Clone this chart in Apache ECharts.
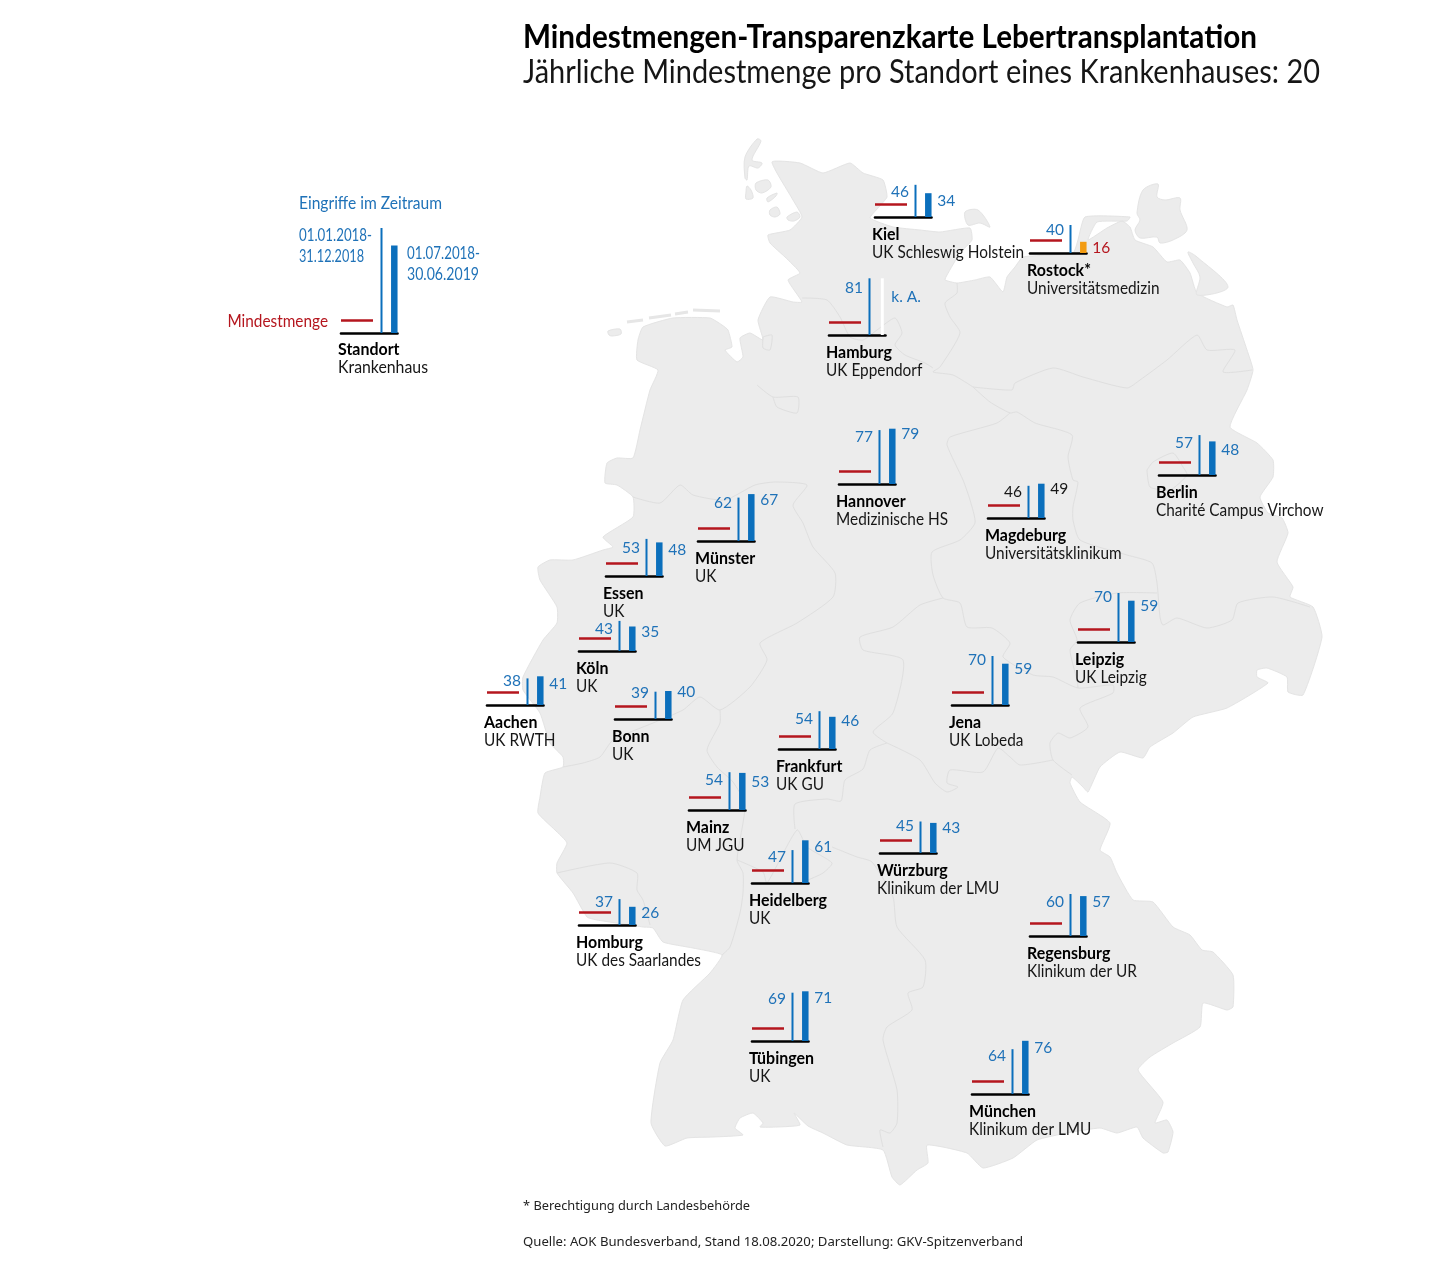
<!DOCTYPE html>
<html>
<head>
<meta charset="utf-8">
<title>Mindestmengen-Transparenzkarte Lebertransplantation</title>
<script src="https://cdn.jsdelivr.net/npm/echarts@6/dist/echarts.min.js"></script>
<style>
  html, body { margin: 0; padding: 0; background: #fff; }
  #main { width: 1440px; height: 1267px; }
</style>
</head>
<body>
<div id="main"></div>
<script>
// data
const cities = ['Kiel', 'Rostock*', 'Hamburg', 'Hannover', 'Berlin', 'Magdeburg', 'Münster', 'Essen', 'Köln', 'Aachen', 'Bonn',
  'Leipzig', 'Jena', 'Frankfurt', 'Mainz', 'Heidelberg', 'Würzburg', 'Homburg', 'Regensburg', 'Tübingen', 'München'];
const clinics = ['UK Schleswig Holstein', 'Universitätsmedizin', 'UK Eppendorf', 'Medizinische HS', 'Charité Campus Virchow',
  'Universitätsklinikum', 'UK', 'UK', 'UK', 'UK RWTH', 'UK', 'UK Leipzig', 'UK Lobeda', 'UK GU', 'UM JGU', 'UK',
  'Klinikum der LMU', 'UK des Saarlandes', 'Klinikum der UR', 'UK', 'Klinikum der LMU'];
const cases2018 = [46, 40, 81, 77, 57, 46, 62, 53, 43, 38, 39, 70, 70, 54, 54, 47, 45, 37, 60, 69, 64];
const cases2019 = [34, 16, null, 79, 48, 49, 67, 48, 35, 41, 40, 59, 59, 46, 53, 61, 43, 26, 57, 71, 76];
const minimumVolume = 20;
const blackLabelCities = ['Magdeburg'];
// legend sample is schematic: bars without numbers
const legendCases = [150, 125];

// layout: left of baseline, baseline y, y of left number, y of right number
const spots = [
  [875, 217, 192, 201], [1030, 253, 230, 248], [829, 335, 288, 297], [839, 484, 437, 434], [1159, 475, 443, 450],
  [988, 518, 492, 489], [698, 541, 503, 500], [606, 576, 548, 550], [579, 651, 629, 632], [487, 705, 681, 684],
  [615, 719, 693, 692], [1078, 642, 597, 606], [952, 705, 660, 669], [779, 749, 719, 721], [689, 810, 780, 782],
  [752, 883, 857, 847], [880, 853, 826, 828], [579, 925, 902, 913], [1030, 936, 902, 902], [752, 1041, 999, 998],
  [972, 1094, 1056, 1048]
];
const legendSpot = [341, 333];

const yMax = 160, pxPerCase = 0.7, chartW = 56.5;
const minLineEnd = 32, thinX = 40.5, thickX = 53.3;
// the red line sits a little lower than the bars' scale in the original
const minLineDrop = 1.5;

const BLUE = '#0b6fbc', LABEL_BLUE = '#1f72b8', RED = '#b5161e', ORANGE = '#f39c12', INK = '#161616';
const FONT = 'Lato, sans-serif';
const SMALL_FONT = '"Noto Sans", sans-serif';

// map backdrop
const germany = [
  772,162, 800,163, 823,173, 850,163, 863,173, 883,180, 887,197, 878,208, 870,218, 893,227, 920,230, 940,232, 970,228, 972,240,
  960,253, 947,275, 945,280, 957,283, 975,280, 990,277, 1003,292, 1007,277, 1015,267, 1023,257, 1073,253, 1078,240, 1085,217,
  1130,217, 1127,221, 1097,222, 1088,240, 1107,228, 1122,221, 1130,227, 1135,240, 1153,247, 1167,262, 1180,260, 1190,273, 1197,293,
  1227,307, 1233,305, 1237,320, 1247,350, 1253,370, 1247,390, 1230,427, 1257,443, 1273,460, 1273,477, 1260,497, 1268,513, 1282,518,
  1288,533, 1277,562, 1293,587, 1290,597, 1313,607, 1322,637, 1303,695, 1288,692, 1287,677, 1267,668, 1257,670, 1257,677, 1268,683,
  1227,708, 1193,717, 1173,733, 1150,747, 1143,758, 1120,752, 1100,767, 1088,792, 1083,787, 1072,777, 1070,783, 1080,802, 1110,823,
  1100,850, 1110,857, 1117,873, 1133,900, 1153,902, 1173,927, 1190,935, 1202,950, 1213,952, 1233,975, 1233,1007, 1227,1010, 1203,1003,
  1200,1027, 1173,1043, 1150,1057, 1138,1070, 1163,1102, 1155,1123, 1167,1120, 1173,1132, 1168,1152, 1163,1153, 1143,1138, 1137,1127,
  1117,1133, 1100,1128, 1067,1133, 1037,1140, 1013,1158, 983,1168, 967,1153, 927,1145, 928,1163, 917,1170, 900,1185, 892,1177, 883,1150,
  847,1145, 823,1133, 808,1126, 794,1113, 800,1125, 777,1127, 760,1127, 763,1123, 753,1113, 740,1118, 735,1128, 743,1135, 713,1137,
  687,1138, 665,1146, 651,1123, 660,1063, 673,1040, 683,1000, 710,973, 722,955, 693,948, 663,942, 653,928, 643,927, 597,920, 587,917,
  573,893, 557,873, 557,863, 567,843, 555,830, 538,813, 540,797, 545,773, 563,767, 563,757, 550,743, 540,713, 523,690, 523,677, 543,640,
  557,623, 557,607, 540,580, 538,567, 550,560, 573,560, 603,550, 613,547, 603,537, 633,517, 633,497, 617,485, 605,483, 607,463, 617,458,
  633,458, 640,430, 650,390, 658,370, 637,360, 638,340, 643,327, 673,318, 710,318, 722,325, 728,330, 732,347, 725,350, 737,362, 743,357,
  740,338, 750,333, 763,340, 758,320, 770,297, 793,302, 802,302, 788,280, 800,273, 785,257, 770,243, 768,235, 790,230, 802,217, 793,200
];
const islands = [
  [757,139, 761,141, 752,160, 762,163, 758,168, 749,166, 747,180, 745,178, 745,157],
  [756,183, 768,180, 771,187, 762,193, 756,190],
  [747,186, 751,190, 753,198, 746,199, 746,192],
  [767,198, 777,193, 776,196, 768,202],
  [770,210, 777,207, 780,214, 775,217, 770,215],
  [787,217, 797,212, 800,217, 794,221, 788,220],
  [965,212, 978,210, 990,227, 980,223, 968,225],
  [1137,213, 1143,190, 1158,184, 1157,197, 1165,200, 1180,198, 1180,210, 1187,230, 1173,240, 1160,243, 1157,237, 1140,238, 1135,230, 1140,220],
  [1188,252, 1197,257, 1228,287, 1197,295, 1200,277, 1193,263],
  [608,331, 620,329, 621,334, 612,336, 609,335]
];
const frisianCoast = [[627,322, 643,320], [649,318, 671,315], [675,314, 688,312], [693,310, 720,311]];
const stateBorders = [
  [802,298, 827,300, 840,317, 850,337, 863,340, 877,330, 895,318, 902,333, 895,345, 905,355, 925,363, 933,368],
  [957,283, 957,293, 945,303, 950,317, 960,333, 940,367, 933,372, 953,375, 973,387],
  [973,387, 1012,390, 1015,383, 1053,368, 1083,377, 1127,388, 1140,380, 1167,360, 1197,335, 1207,350, 1235,350, 1223,372, 1252,370],
  [973,387, 990,402, 1010,413, 1017,412, 1035,423, 1072,435, 1068,457, 1073,480, 1078,482, 1073,507, 1073,520, 1080,540, 1127,555, 1152,563,
    1157,583, 1160,617, 1163,625, 1177,618, 1207,628, 1232,620, 1238,603, 1273,597, 1310,607],
  [1147,470, 1153,462, 1173,453, 1183,467, 1187,475, 1170,490, 1150,487, 1147,470],
  [1010,413, 997,423, 950,437, 947,445, 963,480, 970,500, 975,523, 960,540, 932,552, 933,575, 943,598, 960,603, 967,627, 992,628, 1010,643,
    1003,657, 1033,675, 1053,677, 1078,688, 1113,685, 1113,693, 1080,708, 1088,727, 1070,738, 1058,733, 1050,743, 1053,760, 1072,775],
  [1157,593, 1117,593, 1080,603, 1070,620, 1077,640, 1070,650, 1077,680, 1078,688],
  [1053,760, 1020,765, 1010,757, 998,748, 983,772, 950,770, 947,783, 958,787, 947,792, 935,783, 920,760, 887,743],
  [943,598, 920,605, 893,627, 860,637, 863,650, 903,660, 893,713, 873,732, 887,743],
  [633,497, 660,503, 680,485, 693,495, 725,500, 755,485, 775,482, 807,485, 793,505, 803,523, 813,547, 835,573, 833,597, 797,623, 760,643, 767,660,
    750,687, 720,710, 700,697, 683,710, 653,723, 613,740, 600,757, 583,763, 563,767],
  [720,710, 720,723, 707,750, 717,767, 733,782, 745,805, 737,860, 743,873, 743,893, 740,913, 730,947, 722,955],
  [737,860, 763,872, 767,883, 797,830, 807,847, 832,863, 823,873, 808,880],
  [795,829, 795,804, 827,799, 841,801, 845,780, 863,769, 870,750, 887,743],
  [832,847, 857,857, 872,862, 893,897, 897,927, 925,960, 923,987, 908,993, 912,1010, 887,1027, 883,1040, 897,1090, 897,1123, 890,1133, 880,1130, 883,1147],
  [557,873, 610,863, 637,873, 637,890, 643,900, 650,925],
  [757,385, 773,397, 798,397, 797,413, 777,407, 773,397],
  [763,337, 772,335, 770,350, 763,348, 763,337]
];

function pairs(flat) {
  const out = [];
  for (let i = 0; i < flat.length; i += 2) out.push([flat[i], flat[i + 1]]);
  return out;
}

// the original type is narrower than any installed face, so text gets squeezed to the measured widths
const measure = document.createElement('canvas').getContext('2d');
function widthScale(text, font, target) {
  measure.font = font;
  return target / measure.measureText(text).width;
}
const regularFont = '17px ' + FONT, boldFont = 'bold 17px ' + FONT;
const regularScale = widthScale('UK Schleswig Holstein', regularFont, 152);
const boldScale = widthScale('Heidelberg', boldFont, 78);

const grids = [], xAxes = [], yAxes = [], series = [];
const graphics = [];

const mapStyle = { fill: '#ececec', stroke: '#e4e4e4', lineWidth: 1 };
graphics.push({ type: 'polygon', z: -10, silent: true, shape: { points: pairs(germany), smooth: 0.15 }, style: mapStyle });
islands.forEach(function (p) {
  graphics.push({ type: 'polygon', z: -10, silent: true, shape: { points: pairs(p), smooth: 0.3 }, style: mapStyle });
});
frisianCoast.forEach(function (p) {
  graphics.push({ type: 'polyline', z: -10, silent: true, shape: { points: pairs(p) }, style: { stroke: '#e6e6e6', lineWidth: 3, fill: null } });
});
stateBorders.forEach(function (p) {
  graphics.push({ type: 'polyline', z: -9, silent: true, shape: { points: pairs(p), smooth: 0.2 }, style: { stroke: '#dfdfdf', lineWidth: 1, fill: null } });
});

function txt(text, x, y, font, color, scale, align) {
  graphics.push({
    type: 'text', z: 5, silent: true, x: x, y: y, scaleX: scale, originX: 0, originY: 0,
    style: { text: text, fill: color, align: align || 'left', verticalAlign: 'middle', font: font }
  });
}

function barLabel(text, color, align, dx, dy) {
  return {
    show: true, position: 'insideTop', distance: 0, align: align, verticalAlign: 'middle', offset: [dx, dy],
    color: color, fontFamily: FONT, fontSize: 15.5, formatter: function () { return text; }
  };
}

// one small chart: baseline, thin bar, thick bar, and the minimum line on a grid of its own
function addChart(x0, base, thinValue, thickValue, thickColor, thinLabel, thickLabel) {
  const h = yMax * pxPerCase;
  const g = grids.length;
  grids.push({ left: x0, top: base - h, width: chartW, height: h });
  grids.push({ left: x0, top: base - h + minLineDrop, width: chartW, height: h });
  const y = yAxes.length;
  yAxes.push({ gridIndex: g, type: 'value', min: 0, max: yMax, show: false });
  yAxes.push({ gridIndex: g + 1, type: 'value', min: 0, max: yMax, show: false });
  const ax = xAxes.length;
  xAxes.push({
    gridIndex: g, type: 'value', min: 0, max: chartW, splitLine: { show: false }, axisTick: { show: false }, axisLabel: { show: false },
    axisLine: { show: true, onZero: false, lineStyle: { color: '#000', width: 2.6 } }
  });
  xAxes.push({ gridIndex: g, type: 'value', min: 0, max: chartW, show: false });
  xAxes.push({ gridIndex: g + 1, type: 'value', min: 0, max: chartW, show: false });
  series.push({
    type: 'line', xAxisIndex: ax + 2, yAxisIndex: y + 1, symbol: 'none', silent: true, z: 3,
    data: [[0, minimumVolume], [minLineEnd, minimumVolume]], lineStyle: { color: RED, width: 2.4 }
  });
  series.push({
    type: 'bar', xAxisIndex: ax, yAxisIndex: y, barWidth: 2, silent: true, z: 2, label: thinLabel,
    data: [[thinX, thinValue]], itemStyle: { color: BLUE }
  });
  series.push({
    type: 'bar', xAxisIndex: ax + 1, yAxisIndex: y, barWidth: thickColor === '#fff' ? 3 : 6.5, silent: true, z: 2, label: thickLabel,
    data: [[thickX, thickValue]], itemStyle: { color: thickColor }
  });
}

cities.forEach(function (city, i) {
  const s = spots[i];
  const x0 = s[0], base = s[1];
  const a = cases2018[i], b = cases2019[i];
  const noData = b === null;
  // no number for the second period: an empty white bar as high as the first one
  const thickValue = noData ? a : b;
  const below = !noData && b < minimumVolume;
  const labelColor = blackLabelCities.indexOf(city) >= 0 ? INK : LABEL_BLUE;
  const thinLabel = barLabel(String(a), labelColor, 'right', -6.5, s[2] - (base - a * pxPerCase));
  const thickLabel = barLabel(noData ? 'k. A.' : String(b), below ? RED : labelColor, 'left', 9, s[3] - (base - thickValue * pxPerCase));
  addChart(x0, base, a, thickValue, noData ? '#fff' : (below ? ORANGE : BLUE), thinLabel, thickLabel);
  txt(city, x0 - 3, base + 18, boldFont, '#000', boldScale);
  txt(clinics[i], x0 - 3, base + 36, regularFont, INK, regularScale);
});

// legend
addChart(legendSpot[0], legendSpot[1], legendCases[0], legendCases[1], BLUE, { show: false }, { show: false });
txt('Standort', 338, 350, boldFont, '#000', boldScale);
txt('Krankenhaus', 338, 368, regularFont, INK, widthScale('Krankenhaus', regularFont, 90));
txt('Eingriffe im Zeitraum', 299, 204, regularFont, LABEL_BLUE, widthScale('Eingriffe im Zeitraum', regularFont, 143));
txt('01.01.2018-', 299, 236, regularFont, LABEL_BLUE, widthScale('01.01.2018-', regularFont, 73));
txt('31.12.2018', 299, 257, regularFont, LABEL_BLUE, widthScale('31.12.2018', regularFont, 65));
txt('01.07.2018-', 407, 254, regularFont, LABEL_BLUE, widthScale('01.07.2018-', regularFont, 73));
txt('30.06.2019', 407, 275, regularFont, LABEL_BLUE, widthScale('30.06.2019', regularFont, 72));
txt('Mindestmenge', 328, 322, regularFont, RED, regularScale, 'right');

// heading
const headText = 'Mindestmengen-Transparenzkarte Lebertransplantation';
const subText = 'Jährliche Mindestmenge pro Standort eines Krankenhauses: 20';
const headFont = 'bold 32px ' + FONT, subFont = '32px ' + FONT;
txt(headText, 523, 38, headFont, '#000', widthScale(headText, headFont, 734));
txt(subText, 523, 73, subFont, INK, widthScale(subText, subFont, 797));

// footnotes
const note1 = '* Berechtigung durch Landesbehörde';
const note2 = 'Quelle: AOK Bundesverband, Stand 18.08.2020; Darstellung: GKV-Spitzenverband';
const noteFont = '12px ' + SMALL_FONT;
txt(note1, 523, 1207, noteFont, '#222', widthScale(note1, noteFont, 227));
txt(note2, 523, 1243, noteFont, '#222', widthScale(note2, noteFont, 500));

const chart = echarts.init(document.getElementById('main'), null, { renderer: 'canvas' });
chart.setOption({
  animation: false,
  backgroundColor: '#fff',
  tooltip: { show: false },
  grid: grids,
  xAxis: xAxes,
  yAxis: yAxes,
  series: series,
  graphic: graphics
});
window.onresize = function () {
  chart.resize();
};
</script>
</body>
</html>
